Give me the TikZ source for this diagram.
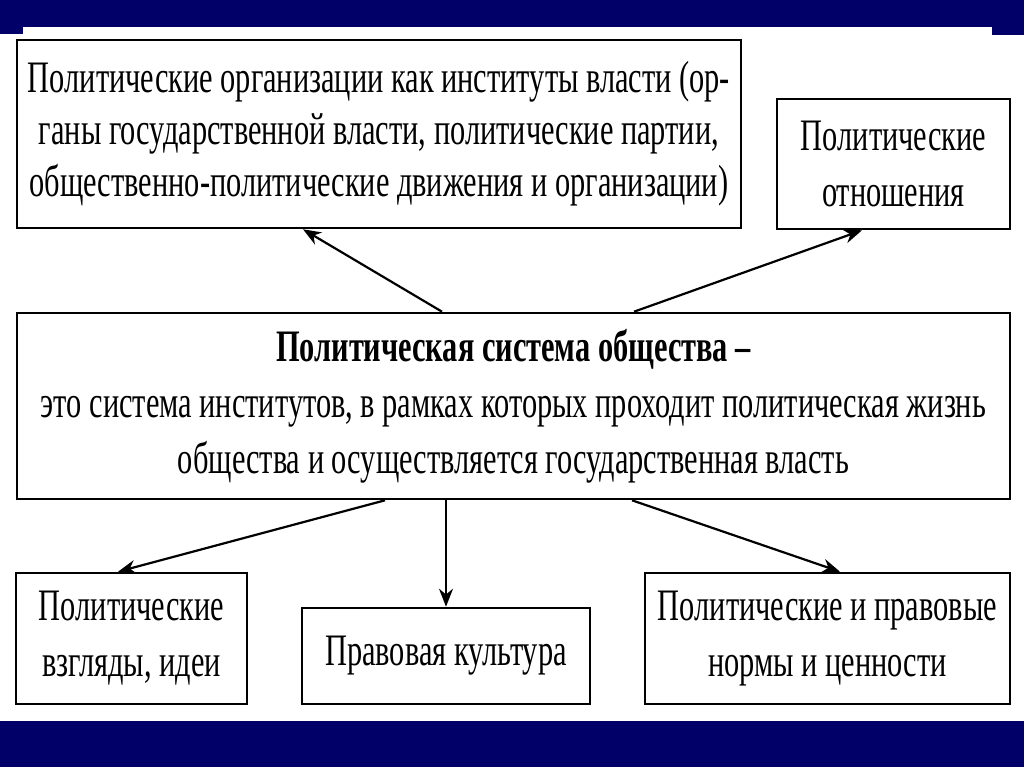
\documentclass[tikz,border=0pt]{standalone}
\usepackage{fontspec}
\setmainfont{Liberation Serif}[FakeStretch=0.675]
\usetikzlibrary{arrows.meta}
\definecolor{slideblue}{RGB}{0,0,104}
\tikzset{
	pbox/.style={
		draw, line width=2.6pt, align=center, inner sep=0pt,
		font=\fontsize{45}{56}\selectfont},
	parrow/.style={
		line width=2.2pt, -{Stealth[length=18pt,width=14pt]}}
}

\begin{document}
\begin{tikzpicture}[x=1pt,y=1pt,yscale=-1,xscale=1]
%frame of the slide
\useasboundingbox (0,0) rectangle (1024,767);
\fill[white] (0,0) rectangle (1024,767);
\fill[slideblue] (0,0) rectangle (1024,27);
\fill[slideblue] (0,0) rectangle (23,34);
\fill[slideblue] (992,0) rectangle (1024,35);
\fill[slideblue] (0,721) rectangle (1024,767);

\node[pbox, minimum width=724pt, minimum height=188pt,
	font=\fontsize{45}{52}\selectfont] (org) at (379,134)
	{Политические организации как институты власти (ор-\\
	ганы государственной власти, политические партии,\\
	общественно-политические движения и организации)};
\node[pbox, minimum width=233pt, minimum height=130pt] (rel) at (893.5,164)
	{Политические\\ отношения};

\node[pbox, minimum width=993pt, minimum height=186pt] (sys) at (513.5,406)
	{{\bfseries Политическая система общества –}\\
	это система институтов, в рамках которых проходит политическая жизнь\\
	общества и осуществляется государственная власть};

\node[pbox, minimum width=231pt, minimum height=131pt] (views) at (131.5,638.5)
	{Политические\\ взгляды, идеи};
\node[pbox, minimum width=288pt, minimum height=96pt] (cult) at (446,656)
	{Правовая культура};
\node[pbox, minimum width=365pt, minimum height=131pt] (norms) at (827.5,638.5)
	{Политические и правовые\\ нормы и ценности};

\draw[parrow] ([xshift=-71.5pt]sys.north) -- ([xshift=-76pt]org.south);
\draw[parrow] ([xshift=120.5pt]sys.north) -- ([xshift=-31.5pt]rel.south);
\draw[parrow] ([xshift=-128.5pt]sys.south) -- ([xshift=-13.5pt]views.north);
\draw[parrow] (cult.north |- sys.south) -- (cult.north);
\draw[parrow] ([xshift=118.5pt]sys.south) -- ([xshift=12.5pt]norms.north);

\end{tikzpicture}
\end{document}
